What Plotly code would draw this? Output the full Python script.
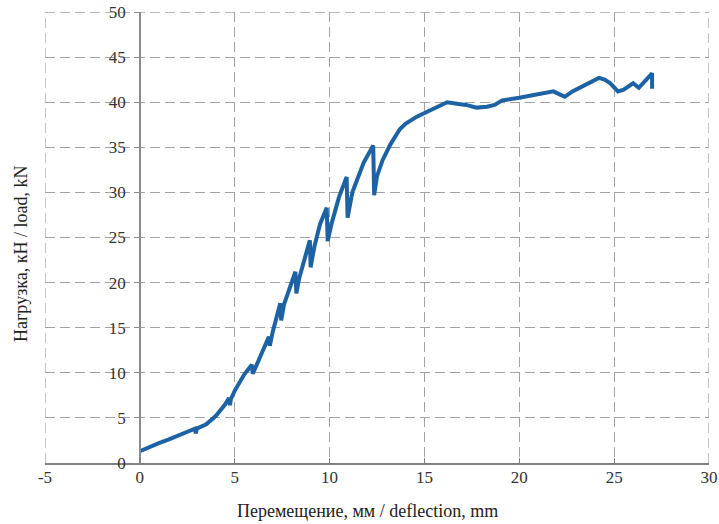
import plotly.graph_objects as go

# deflection, mm
deflection = [0, 0.5, 1, 1.5, 2, 2.5, 2.9, 2.95, 3.0, 3.5, 4, 4.5, 4.7, 4.75, 4.8, 5, 5.5, 5.9, 5.95,
              6.1, 6.5, 6.8, 6.85, 7.0, 7.4, 7.45, 7.6, 8.2, 8.25, 8.4, 8.96, 9.0, 9.2, 9.5, 9.85,
              9.9, 10.1, 10.5, 10.9, 10.95, 11.2, 11.8, 12.3, 12.35, 12.5, 12.8, 13.2, 13.7, 14.0,
              14.6, 15.2, 15.8, 16.2, 16.8, 17.2, 17.75, 18.3, 18.7, 19.1, 20.0, 20.6, 21.2, 21.8,
              22.1, 22.4, 22.8, 23.2, 23.7, 24.2, 24.5, 24.8, 25.2, 25.5, 26.0, 26.3, 27.0, 27.0]
# load, kN
load = [1.3, 1.8, 2.2, 2.6, 3.0, 3.4, 3.8, 3.3, 3.8, 4.3, 5.2, 6.5, 7.2, 6.4, 7.1, 8.0, 9.8, 10.9, 9.9,
        10.6, 12.6, 14.0, 13.0, 14.5, 17.7, 15.8, 17.6, 21.2, 18.8, 20.5, 24.7, 21.7, 24.0, 26.5, 28.3,
        24.6, 26.5, 29.5, 31.7, 27.2, 30.0, 33.3, 35.2, 29.7, 31.8, 33.6, 35.3, 37.0, 37.6,
        38.4, 39.0, 39.6, 40.0, 39.8, 39.7, 39.4, 39.5, 39.7, 40.2, 40.5, 40.7, 40.9, 41.2,
        40.9, 40.6, 41.2, 41.6, 42.1, 42.7, 42.5, 42.1, 41.2, 41.4, 42.1, 41.6, 43.2, 41.5]

x_ticks = [-5, 0, 5, 10, 15, 20, 25, 30]
x_tick_labels = ["-5", "0", "5", "10", "15", "20", "25", "30"]
y_ticks = [0, 5, 10, 15, 20, 25, 30, 35, 40, 45, 50]

font_family = "Liberation Serif, Times New Roman, serif"
grid_col = "#a3a3a3"
grid_dash = "10px,5px"

W, H = 719, 524
ML, MR, MT, MB = 45, 10, 12, 61

fig = go.Figure()
fig.add_trace(go.Scatter(x=deflection, y=load, mode="lines",
                         line=dict(color="#1c62a5", width=4), showlegend=False))

fig.update_layout(
    width=W, height=H,
    margin=dict(l=ML, r=MR, t=MT, b=MB),
    paper_bgcolor="white", plot_bgcolor="white",
    font=dict(family=font_family, size=17, color="#333333"),
    xaxis=dict(range=[-5, 30], tickvals=x_ticks, ticktext=x_tick_labels, showgrid=True,
               gridcolor=grid_col, griddash=grid_dash, gridwidth=1.3, zeroline=False,
               showline=True, linecolor="#808080", linewidth=1.5, ticks="inside", ticklen=5,
               tickcolor="#808080", anchor="y", domain=[0, 1], automargin=False,
               ticklabelstandoff=-2, ticklabeloverflow="allow"),
    yaxis=dict(range=[0, 50], tickvals=y_ticks, showgrid=True, gridcolor=grid_col,
               griddash=grid_dash, gridwidth=1.3, zeroline=False, showline=True,
               linecolor="#8a8a8a", linewidth=1.5, ticks="outside", ticklen=5,
               tickcolor="#8a8a8a", anchor="free", position=1/7, ticklabelstandoff=5,
               automargin=False, ticklabeloverflow="allow"),
    shapes=[
        dict(type="line", xref="x", yref="paper", x0=-5, x1=-5, y0=0, y1=1,
             line=dict(color=grid_col, width=1.3, dash=grid_dash), layer="below"),
        dict(type="line", xref="paper", yref="y", x0=0, x1=1, y0=50, y1=50,
             line=dict(color=grid_col, width=1.3, dash=grid_dash), layer="below"),
        dict(type="line", xref="x", yref="paper", x0=30, x1=30, y0=0, y1=1,
             line=dict(color=grid_col, width=1.3, dash=grid_dash), layer="below"),
    ],
)
pw, ph = W - ML - MR, H - MT - MB
bottom = H - MB
fig.add_annotation(text="Перемещение, мм / deflection, mm", x=(367 - ML) / pw,
                   y=(bottom - 511) / ph, xref="paper", yref="paper", showarrow=False,
                   xanchor="center", yanchor="middle",
                   font=dict(size=18, color="#222222", family=font_family))
fig.add_annotation(text="Нагрузка, кН / load, kN", x=(21 - ML) / pw,
                   y=(bottom - 254) / ph, xref="paper", yref="paper", showarrow=False,
                   textangle=-90, xanchor="center", yanchor="middle",
                   font=dict(size=18, color="#222222", family=font_family))
fig.write_html("out.html", config={"displayModeBar": False},
               post_script="document.body.style.margin='0';")
